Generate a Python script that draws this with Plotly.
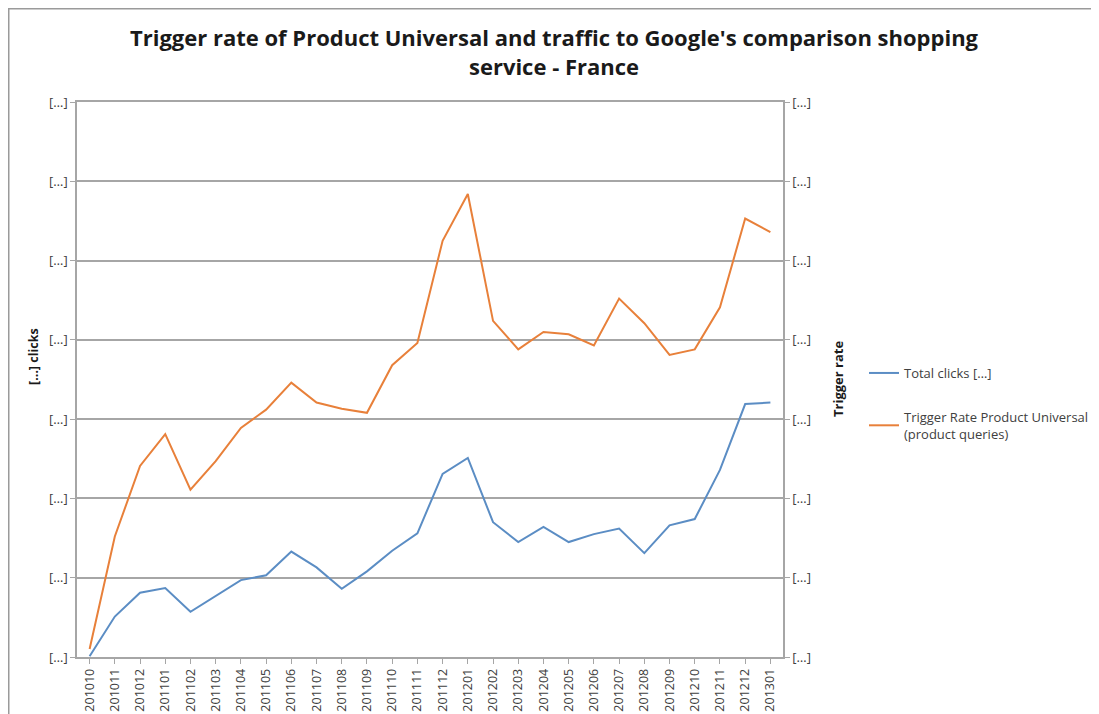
import plotly.graph_objects as go

months = ["201010", "201011", "201012", "201101", "201102", "201103", "201104",
          "201105", "201106", "201107", "201108", "201109", "201110", "201111",
          "201112", "201201", "201202", "201203", "201204", "201205", "201206",
          "201207", "201208", "201209", "201210", "201211", "201212", "201301"]

total_clicks = [0.01, 0.51, 0.81, 0.87, 0.57, 0.77, 0.97, 1.03, 1.33, 1.13,
                0.86, 1.08, 1.34, 1.56, 2.31, 2.51, 1.70, 1.45, 1.64, 1.45,
                1.55, 1.62, 1.31, 1.66, 1.74, 2.36, 3.19, 3.21]

trigger_rate = [0.10, 1.52, 2.41, 2.81, 2.11, 2.47, 2.89, 3.12, 3.46, 3.21,
                3.13, 3.08, 3.68, 3.96, 5.25, 5.84, 4.24, 3.88, 4.10, 4.07,
                3.93, 4.52, 4.21, 3.81, 3.88, 4.41, 5.53, 5.36]

y_ticks = [0, 1, 2, 3, 4, 5, 6, 7]
y_tick_text = ["[…]"] * len(y_ticks)

title_text = ("Trigger rate of Product Universal and traffic to Google's comparison shopping"
              "<br>service - France")
left_title = "<b>[…] clicks</b>"
right_title = "<b>Trigger rate</b>"
name_clicks = "Total clicks […]"
name_rate = "Trigger Rate Product Universal<br>(product queries)"

FONT = "Open Sans"
GRID = "#a6a6a6"
TXT = "#404040"

# page is offset by 8px body margin; positions below are in page pixels
OFF = 8
L, T = 77 - OFF, 102 - OFF
PR, PB = 783 - OFF, 657 - OFF
R, B = 1099 - PR, 714 - PB
W, H = PR - L, PB - T


def px(xp):
    return (xp - OFF - L) / W


def py(yp):
    return 1 - (yp - OFF - T) / H


fig = go.Figure()
fig.add_trace(go.Scatter(x=months, y=total_clicks, mode="lines", name=name_clicks,
                         line=dict(color="#5b8dc4", width=2), legendgroup="a"))
fig.add_trace(go.Scatter(x=months, y=trigger_rate, mode="lines", name=name_rate,
                         line=dict(color="#e8803a", width=2), legendgroup="b",
                         yaxis="y2"))

fig.update_layout(
    width=1099, height=714,
    margin=dict(l=L, r=R, t=T, b=B, autoexpand=False),
    paper_bgcolor="white", plot_bgcolor="white",
    font=dict(family=FONT, color=TXT),
    title=dict(text=title_text, x=(554 - OFF) / 1099, xanchor="center",
               y=1 - 38 / 714, yanchor="top",
               font=dict(family=FONT, size=22, color="#1a1a1a", weight="bold")),
    showlegend=True,
    legend=dict(x=px(864), xanchor="left", y=py(358), yanchor="top",
                font=dict(family=FONT, size=13, color=TXT),
                tracegroupgap=24, itemwidth=30, bgcolor="rgba(0,0,0,0)"),
    xaxis=dict(type="category", range=[-0.5, len(months) - 0.5],
               tickangle=-90, tickfont=dict(family=FONT, size=12.5, color=TXT),
               showline=True, linecolor=GRID, linewidth=1.5, mirror=True,
               ticks="outside", ticklen=5, tickcolor=GRID, showgrid=False),
    yaxis=dict(range=[0, 7], tickmode="array", tickvals=y_ticks, ticktext=y_tick_text,
               tickfont=dict(family=FONT, size=13, color=TXT),
               showgrid=True, gridcolor=GRID, gridwidth=1.5, zeroline=False,
               showline=True, linecolor=GRID, linewidth=1.5,
               ticks="outside", ticklen=5, tickcolor=GRID),
    yaxis2=dict(range=[0, 7], overlaying="y", side="right", tickmode="array",
                tickvals=y_ticks, ticktext=y_tick_text,
                tickfont=dict(family=FONT, size=13, color=TXT),
                showgrid=False, zeroline=False,
                showline=True, linecolor=GRID, linewidth=1.5,
                ticks="outside", ticklen=5, tickcolor=GRID),
)

# axis titles
fig.add_annotation(text=left_title, xref="paper", yref="paper",
                   x=px(33), y=py(357), textangle=-90,
                   xanchor="center", yanchor="middle",
                   showarrow=False, font=dict(family=FONT, size=12.5, color="#1a1a1a"))
fig.add_annotation(text=right_title, xref="paper", yref="paper",
                   x=px(838), y=py(379), textangle=-90,
                   xanchor="center", yanchor="middle",
                   showarrow=False, font=dict(family=FONT, size=13, color="#1a1a1a"))

# chart frame
fig.add_shape(type="rect", xref="paper", yref="paper",
              x0=(0.75 - L) / W, x1=(1200 - L) / W,
              y0=-(800 - PB) / H, y1=1 + (T - 0.75) / H,
              line=dict(color="#9a9a9a", width=1.5), layer="below")

fig.write_html("out.html")
